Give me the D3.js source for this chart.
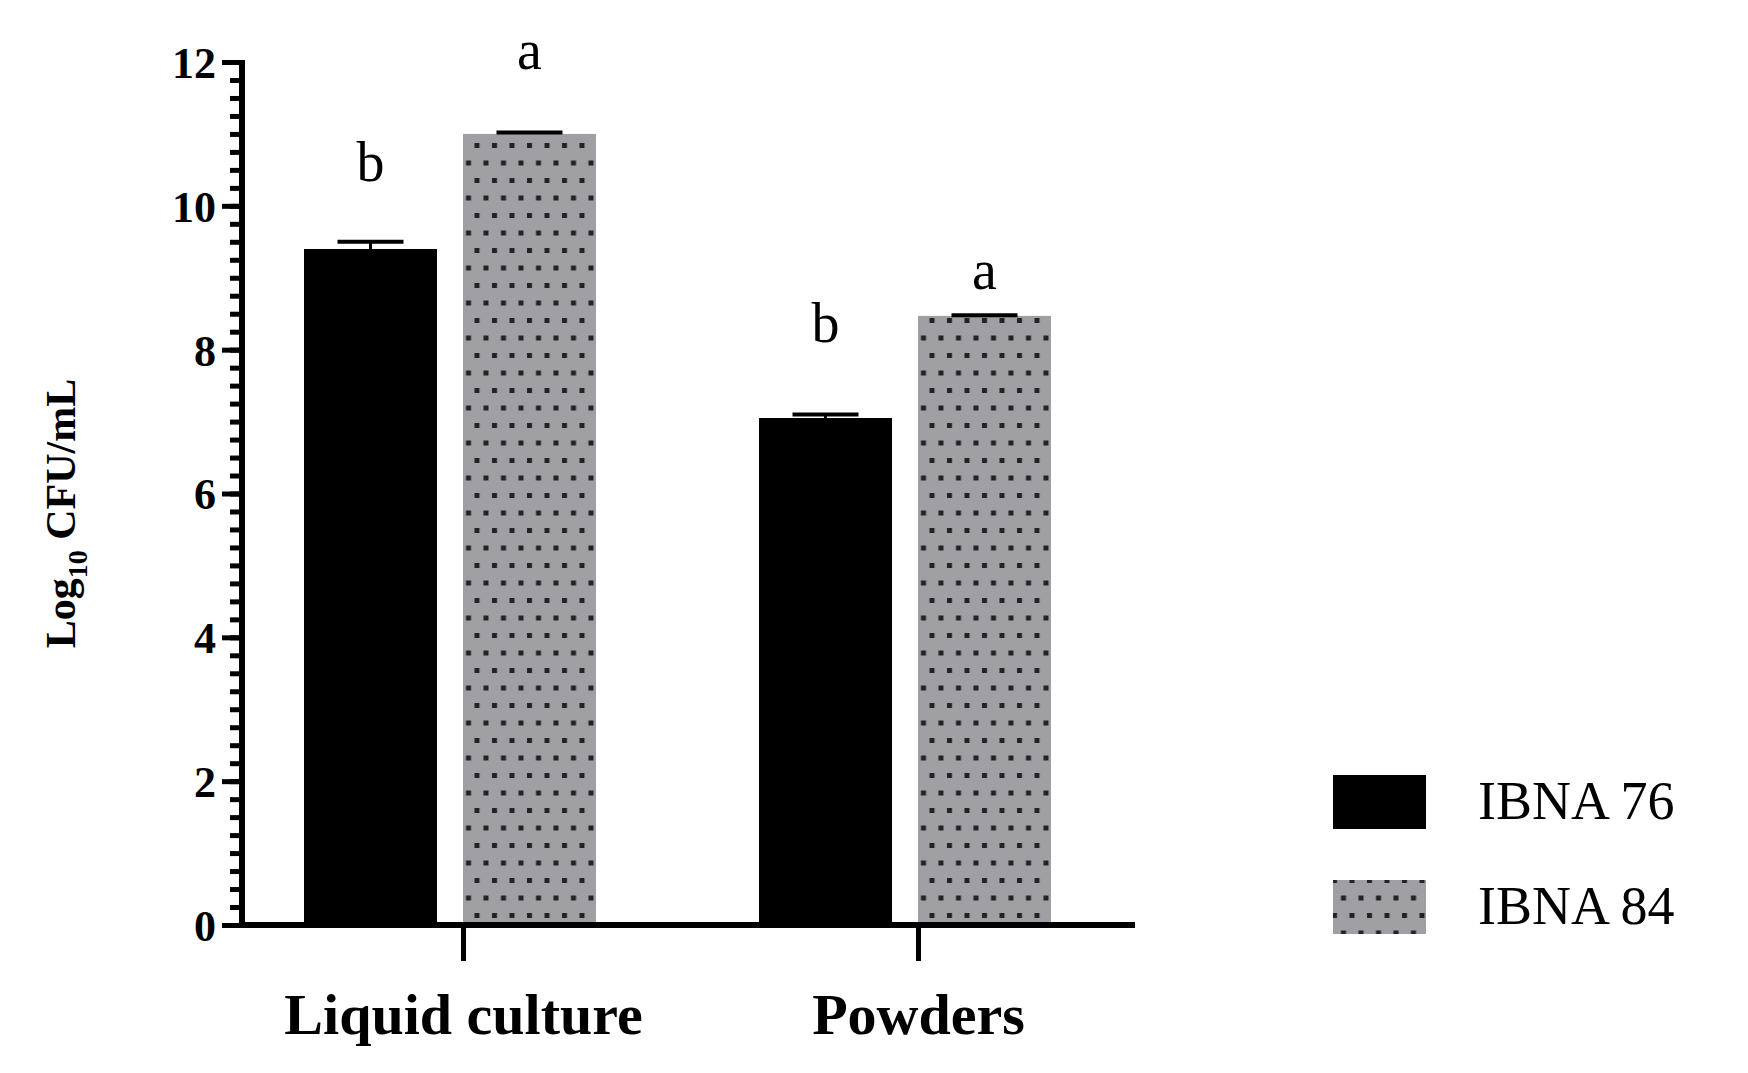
<!DOCTYPE html>
<html><head><meta charset="utf-8">
<script src="https://cdn.jsdelivr.net/npm/d3@7"></script>
<style>body{margin:0;background:#fff}text{font-family:"Liberation Serif","DejaVu Serif",serif;fill:#000}</style>
</head><body><svg id="chart" width="1748" height="1073"></svg>
<script>
const categories = ["Liquid culture", "Powders"];
const series = ["IBNA 76", "IBNA 84"];
const means = [[9.4, 11.0], [7.05, 8.47]];
const errors = [[0.1, 0.02], [0.05, 0.01]];
const letters = [["b", "a"], ["b", "a"]];
const letterY = [[10.35, 11.9], [8.1, 8.85]];
const yTicks = [0, 2, 4, 6, 8, 10, 12];

const svg = d3.select("#chart");
const defs = svg.append("defs");
const pat = defs.append("pattern").attr("id", "dots").attr("patternUnits", "userSpaceOnUse")
  .attr("width", 17.5).attr("height", 35);
pat.append("rect").attr("width", 17.5).attr("height", 35).attr("fill", "#a09fa4");
pat.append("rect").attr("x", 2).attr("y", 3).attr("width", 5).attr("height", 5).attr("fill", "#222");
pat.append("rect").attr("x", 11).attr("y", 20.5).attr("width", 5).attr("height", 5).attr("fill", "#222");
const fills = ["#000", "url(#dots)"];

const left = 242, zeroY = 925, right = 1135;
const y = d3.scaleLinear().domain([0, 12]).range([zeroY, 62]);
const x = d3.scaleBand().domain(categories).range([left + 0, right + 40]).paddingInner(0.0).paddingOuter(0);
const centers = [463, 918];
const xs = d3.scalePoint().domain(categories).range(centers);
const barW = 133, gap = 26;

const g = svg.append("g");
categories.forEach((c, i) => {
  series.forEach((s, j) => {
    const x0 = xs(c) - gap / 2 - barW + j * (barW + gap) - 13;
    const cx = x0 + barW / 2;
    g.append("rect").attr("x", x0).attr("y", y(means[i][j])).attr("width", barW)
      .attr("height", y(0) - y(means[i][j])).attr("fill", fills[j]);
    g.append("line").attr("x1", cx).attr("x2", cx).attr("y1", y(means[i][j])).attr("y2", y(means[i][j] + errors[i][j]))
      .attr("stroke", "#000").attr("stroke-width", 3);
    g.append("line").attr("x1", cx - 33).attr("x2", cx + 33).attr("y1", y(means[i][j] + errors[i][j])).attr("y2", y(means[i][j] + errors[i][j]))
      .attr("stroke", "#000").attr("stroke-width", 4);
    g.append("text").attr("x", cx).attr("y", y(letterY[i][j])).attr("text-anchor", "middle")
      .attr("font-size", 56).text(letters[i][j]);
  });
});

// y axis
const yAxis = svg.append("g").attr("transform", `translate(${left},0)`);
yAxis.call(d3.axisLeft(y).tickValues(d3.range(0, 12.01, 0.25)).tickSize(12).tickFormat(""))
  .call(a => a.selectAll(".tick line").attr("stroke-width", 5));
yAxis.append("g").call(d3.axisLeft(y).tickValues(yTicks).tickSize(20).tickPadding(6))
  .call(a => a.selectAll(".tick line").attr("stroke-width", 5))
  .call(a => a.selectAll("text").attr("font-size", 44).attr("font-weight", "bold").attr("font-family", "Liberation Serif").attr("dy", "0.35em"));
yAxis.selectAll(".domain").remove();
svg.append("line").attr("x1", left).attr("x2", left).attr("y1", y(12) - 2).attr("y2", zeroY + 3).attr("stroke", "#000").attr("stroke-width", 6);

// x axis
const xAxis = svg.append("g").attr("transform", `translate(0,${zeroY})`);
xAxis.call(d3.axisBottom(xs).tickSize(36).tickPadding(32))
  .call(a => a.select(".domain").remove())
  .call(a => a.selectAll(".tick line").attr("stroke-width", 5))
  .call(a => a.selectAll("text").attr("font-size", 58).attr("font-weight", "bold").attr("font-family", "Liberation Serif"));
svg.append("line").attr("x1", left - 3).attr("x2", right).attr("y1", zeroY).attr("y2", zeroY).attr("stroke", "#000").attr("stroke-width", 6);

// y title
const t = svg.append("text").attr("transform", `translate(75,${(y(0) + y(12)) / 2 + 20}) rotate(-90)`)
  .attr("text-anchor", "middle").attr("font-size", 42).attr("font-weight", "bold");
t.append("tspan").text("Log");
t.append("tspan").attr("font-size", 28).attr("dy", 12).text("10");
t.append("tspan").attr("dy", -12).text(" CFU/mL");

// legend
series.forEach((s, j) => {
  const ly = 775 + j * 105;
  svg.append("rect").attr("x", 1333).attr("y", ly).attr("width", 93).attr("height", 54).attr("fill", fills[j]);
  svg.append("text").attr("x", 1478).attr("y", ly + 44).attr("font-size", 54).text(s);
});
</script></body></html>
